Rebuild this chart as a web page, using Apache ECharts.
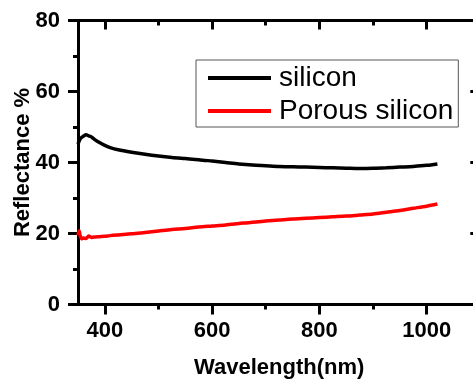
<!DOCTYPE html>
<html>
<head>
<meta charset="utf-8">
<script src="https://cdn.jsdelivr.net/npm/echarts@6/dist/echarts.min.js"></script>
<style>
  html, body { margin: 0; padding: 0; background: #fff; width: 473px; height: 379px; overflow: hidden; }
  #wrap { position: relative; width: 473px; height: 379px; overflow: hidden; }
  /* chart wider than the window: the right spine of the original figure is cropped off */
  #main { position: absolute; left: 0; top: 0; width: 481px; height: 379px; }
</style>
</head>
<body>
<div id="wrap"><div id="main"></div></div>
<script>
var wavelength = [350, 352, 354, 357, 360, 365, 370, 375, 380, 390, 400, 410, 425, 450, 475, 500, 525, 550, 575, 600,
    625, 650, 675, 700, 725, 750, 775, 800, 825, 850, 875, 900, 925, 950, 975, 1000, 1020];
var silicon = [45.2, 46.0, 46.6, 47.1, 47.4, 47.8, 47.5, 47.2, 46.6, 45.6, 44.8, 44.2, 43.6, 42.9, 42.3, 41.8, 41.4, 41.1, 40.8, 40.4,
    40.0, 39.6, 39.3, 39.1, 38.9, 38.8, 38.7, 38.6, 38.5, 38.4, 38.3, 38.35, 38.5, 38.7, 38.9, 39.2, 39.6];
var porous = [19.5, 20.8, 19.4, 18.5, 18.7, 18.6, 19.3, 18.9, 19.0, 19.1, 19.2, 19.4, 19.6, 19.9, 20.3, 20.7, 21.1, 21.4, 21.8, 22.1,
    22.4, 22.8, 23.2, 23.5, 23.8, 24.1, 24.3, 24.5, 24.7, 24.9, 25.2, 25.5, 26.0, 26.5, 27.1, 27.7, 28.3];
var seriesNames = ['silicon', 'Porous silicon'];
var majorX = [400, 600, 800, 1000];
var minorX = [500, 700, 900];

var font = 'Arial, "Liberation Sans", sans-serif';
var black = '#000';

function pairs(xs, ys) {
    var out = [];
    for (var i = 0; i < xs.length; i++) out.push([xs[i], ys[i]]);
    return out;
}

function xAxisCfg(pos, ticks, len, inside, withLabels) {
    return {
        type: 'value', position: pos, min: 350, max: 1100,
        axisLine: { show: true, lineStyle: { color: black, width: 3 } },
        axisTick: { show: true, inside: inside, length: len, customValues: ticks, lineStyle: { color: black, width: 3 } },
        axisLabel: withLabels ? {
            show: true, customValues: ticks, margin: 15, color: black, fontSize: 22, fontWeight: 'bold', fontFamily: font,
            formatter: function (v) { return String(v); }
        } : { show: false },
        splitLine: { show: false }
    };
}

var myChart = echarts.init(document.getElementById('main'));
var option = {
    animation: false,
    color: ['#000000', '#ff0000'],
    grid: { left: 78, top: 20.5, right: 0.7, bottom: 74.5, containLabel: false, outerBoundsMode: 'none' },
    legend: {
        orient: 'vertical',
        left: 196,
        top: 60,
        icon: 'rect',
        itemWidth: 63,
        itemHeight: 4,
        itemGap: 5,
        padding: [4, 5, 2, 12],
        borderColor: '#555',
        borderWidth: 1,
        textStyle: { color: black, fontSize: 28, fontFamily: font, lineHeight: 28, padding: [0, 0, 0, 3] },
        data: seriesNames
    },
    xAxis: [
        Object.assign(xAxisCfg('bottom', majorX, 10, false, true), {
            name: 'Wavelength(nm)', nameLocation: 'middle', nameGap: 52, nameMoveOverlap: false,
            nameTextStyle: { color: black, fontSize: 22, fontWeight: 'bold', fontFamily: font }
        }),
        xAxisCfg('bottom', minorX, 5, false, false),
        xAxisCfg('top', majorX, 9, true, false),
        xAxisCfg('top', minorX, 5, true, false)
    ],
    yAxis: [
        {
            type: 'value', position: 'left', min: 0, max: 80, interval: 20,
            name: 'Reflectance %', nameLocation: 'middle', nameGap: 44, nameMoveOverlap: false,
            nameTextStyle: { color: black, fontSize: 22, fontWeight: 'bold', fontFamily: font },
            axisLine: { show: true, lineStyle: { color: black, width: 3 } },
            axisTick: { show: true, length: 10, lineStyle: { color: black, width: 3 } },
            minorTick: { show: true, splitNumber: 2, length: 5, lineStyle: { color: black, width: 3 } },
            axisLabel: { margin: 18, color: black, fontSize: 22, fontWeight: 'bold', fontFamily: font },
            splitLine: { show: false }
        },
        {
            type: 'value', position: 'right', min: 0, max: 80, interval: 20,
            axisLine: { show: false },
            axisTick: { show: true, inside: true, length: 10, lineStyle: { color: black, width: 3 } },
            minorTick: { show: true, splitNumber: 2, length: 5, lineStyle: { color: black, width: 3 } },
            axisLabel: { show: false },
            splitLine: { show: false }
        }
    ],
    series: [
        {
            name: seriesNames[0], type: 'line', xAxisIndex: 0, yAxisIndex: 0,
            showSymbol: false, smooth: 0.3,
            lineStyle: { color: '#000000', width: 3.5 },
            data: pairs(wavelength, silicon)
        },
        {
            name: seriesNames[1], type: 'line', xAxisIndex: 0, yAxisIndex: 0,
            showSymbol: false, smooth: 0.3,
            lineStyle: { color: '#ff0000', width: 3.5 },
            data: pairs(wavelength, porous)
        }
    ]
};
myChart.setOption(option);
</script>
</body>
</html>
